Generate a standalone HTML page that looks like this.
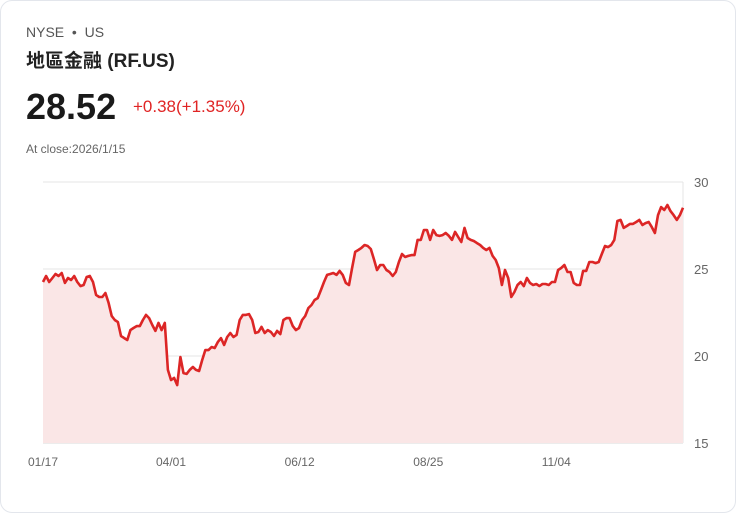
<!DOCTYPE html>
<html><head><meta charset="utf-8"><style>
body{margin:0;width:736px;height:513px;background:#fff;font-family:"Liberation Sans","Noto Sans CJK TC",sans-serif;overflow:hidden}
.card{position:absolute;left:0;top:0;width:734px;height:511px;border:1px solid #e3e6ec;border-radius:12px;background:#fff}
.t{position:absolute;white-space:nowrap}
</style></head><body>
<div class="card">
<div class="t" style="left:25px;top:23px;font-size:14px;color:#555">NYSE &nbsp;•&nbsp; US</div>
<div class="t" style="left:25px;top:45px;font-size:19px;font-weight:bold;color:#222">地區金融 (RF.US)</div>
<div class="t" style="left:25px;top:85px;font-size:36px;font-weight:bold;color:#1a1a1a">28.52</div>
<div class="t" style="left:132px;top:96px;font-size:17px;color:#e02424">+0.38(+1.35%)</div>
<div class="t" style="left:25px;top:141px;font-size:12px;color:#666">At close:2026/1/15</div>
<svg id="c" width="736" height="513" style="position:absolute;left:-1px;top:-1px"></svg>
</div>
<script>
const values=[24.25,24.6,24.25,24.48,24.71,24.6,24.77,24.2,24.48,24.37,24.6,24.25,24.02,24.08,24.54,24.6,24.25,23.51,23.39,23.39,23.62,23.05,22.3,22.07,21.95,21.15,21.03,20.92,21.49,21.61,21.72,21.72,22.07,22.36,22.18,21.78,21.44,21.9,21.49,21.9,19.2,18.62,18.74,18.33,19.94,19.02,18.97,19.2,19.37,19.2,19.14,19.77,20.34,20.34,20.52,20.46,20.8,21.03,20.63,21.09,21.32,21.09,21.21,22.07,22.36,22.36,22.41,22.07,21.32,21.38,21.67,21.32,21.49,21.38,21.15,21.44,21.26,22.07,22.18,22.18,21.72,21.49,21.61,22.07,22.3,22.76,22.93,23.22,23.33,23.79,24.25,24.66,24.71,24.77,24.66,24.89,24.66,24.2,24.08,25.06,25.98,26.09,26.21,26.38,26.32,26.15,25.57,24.94,25.23,25.23,24.94,24.83,24.6,24.83,25.4,25.86,25.69,25.75,25.8,25.8,26.67,26.67,27.24,27.24,26.67,27.24,26.95,26.9,26.95,27.07,26.9,26.67,27.13,26.84,26.55,27.36,26.78,26.67,26.61,26.49,26.38,26.21,26.09,26.21,25.75,25.52,25.06,24.08,24.94,24.48,23.39,23.68,24.08,24.25,24.02,24.48,24.2,24.08,24.14,24.02,24.14,24.14,24.08,24.25,24.25,24.94,25.06,25.23,24.83,24.83,24.2,24.08,24.08,24.89,24.89,25.4,25.4,25.34,25.4,25.86,26.32,26.26,26.38,26.67,27.76,27.82,27.36,27.47,27.59,27.59,27.7,27.82,27.53,27.64,27.7,27.41,27.07,28.1,28.56,28.39,28.68,28.33,28.1,27.82,28.1,28.52];
const yTicks=[15,20,25,30];
const xLabels=["01/17","04/01","06/12","08/25","11/04"];
const xLabelFrac=[0,0.2,0.401,0.602,0.802];
const X0=43,X1=683,Y0=443,Y1=182,vmin=15,vmax=30;
const n=values.length;
const xs=i=>X0+(X1-X0)*i/(n-1);
const xf=f=>X0+(X1-X0)*f;
const ys=v=>Y0-(v-vmin)/(vmax-vmin)*(Y0-Y1);
const svg=document.getElementById('c');const NS="http://www.w3.org/2000/svg";
function mk(t,a){const e=document.createElementNS(NS,t);for(const k in a)e.setAttribute(k,a[k]);svg.appendChild(e);return e;}
yTicks.forEach(v=>{
 const l=mk('line',{x1:43,x2:683,y1:ys(v),y2:ys(v),stroke:v===15?'#d9d9d9':'#e4e4e4','stroke-width':1});
 
 
 const t=mk('text',{x:694,y:ys(v)+5,'font-size':13,fill:'#666','font-family':'Liberation Sans'});t.textContent=v;
 
 
});
const ax=mk('line',{x1:683,x2:683,y1:Y1,y2:Y0,stroke:'#e4e4e4'});


xLabels.forEach((s,i)=>{
 const t=mk('text',{x:xf(xLabelFrac[i]),y:466,'font-size':12,fill:'#666','text-anchor':'middle','font-family':'Liberation Sans'});t.textContent=s;
 
 
});
let d=values.map((v,i)=>(i?'L':'M')+xs(i).toFixed(1)+' '+ys(v).toFixed(1)).join(' ');
const area=mk('path',{d:d+` L${X1} ${Y0} L${X0} ${Y0} Z`,fill:'#fae6e6'});


const line=mk('path',{d:d,fill:'none',stroke:'#dc2626','stroke-width':2.6,'stroke-linejoin':'round'});


</script>
</body></html>
